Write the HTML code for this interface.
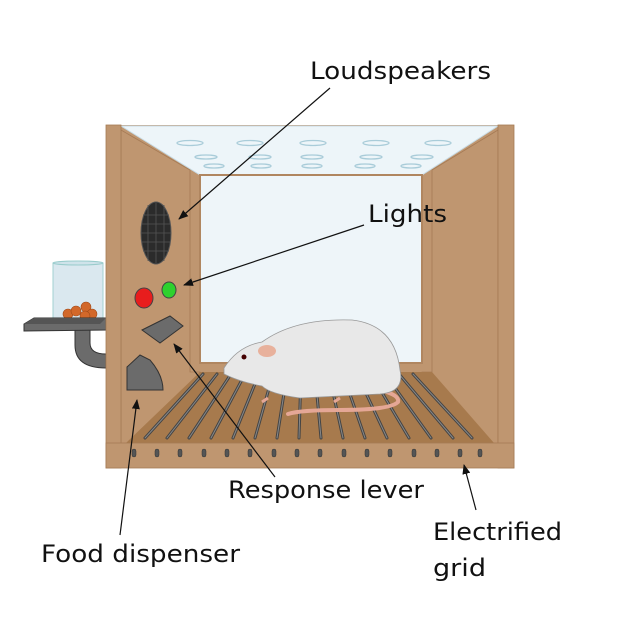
<!DOCTYPE html>
<html><head><meta charset="utf-8"><style>html,body{margin:0;padding:0;background:#fff}svg{display:block}</style></head>
<body>
<svg width="618" height="623" viewBox="0 0 618 623" xmlns="http://www.w3.org/2000/svg">
<defs>
<marker id="ah" markerWidth="10" markerHeight="8" refX="9" refY="4" orient="auto" markerUnits="userSpaceOnUse">
<path d="M0,0 L10,4 L0,8 Z" fill="#111"/></marker>
</defs>
<path d="M75,330 L75,345 Q75,368 106,368 L106,354 Q90,354 90,343 L90,330 Z" fill="#6b6b6b" stroke="#333" stroke-width="1"/>
<rect x="53" y="263" width="50" height="58" fill="#d6e6ee" stroke="#9cc" stroke-width="1" opacity="0.9"/>
<ellipse cx="78" cy="263" rx="25" ry="2" fill="#cfe3ea" stroke="#9cc"/>
<g fill="#d2682a" stroke="#a04a1a" stroke-width="0.6">
<circle cx="68" cy="314" r="5"/><circle cx="76" cy="311" r="5"/><circle cx="86" cy="307" r="5"/><circle cx="92" cy="314" r="5"/><circle cx="85" cy="316" r="5"/></g>
<path d="M24,324 L34,318 L106,318 L106,330 L24,331 Z" fill="#6b6b6b" stroke="#333"/>
<path d="M24,324 L34,318 L106,318 L100,324 Z" fill="#555"/>
<!-- box base fill -->
<rect x="106" y="125" width="408" height="343" fill="#bf9670"/>
<rect x="200" y="175" width="222" height="200" fill="#bf9670"/>
<path d="M121,126 L498,126 L422,175 L200,175 Z" fill="#edf5f9" stroke="#c8dce6"/>
<g fill="none" stroke="#a9ccd9" stroke-width="1.3">
<ellipse cx="190" cy="143" rx="13" ry="2.5"/><ellipse cx="250" cy="143" rx="13" ry="2.5"/><ellipse cx="313" cy="143" rx="13" ry="2.5"/><ellipse cx="376" cy="143" rx="13" ry="2.5"/><ellipse cx="438" cy="143" rx="13" ry="2.5"/>
<ellipse cx="206" cy="157" rx="11" ry="2"/><ellipse cx="260" cy="157" rx="11" ry="2"/><ellipse cx="312" cy="157" rx="11" ry="2"/><ellipse cx="371" cy="157" rx="11" ry="2"/><ellipse cx="422" cy="157" rx="11" ry="2"/>
<ellipse cx="214" cy="166" rx="10" ry="2"/><ellipse cx="261" cy="166" rx="10" ry="2"/><ellipse cx="312" cy="166" rx="10" ry="2"/><ellipse cx="365" cy="166" rx="10" ry="2"/><ellipse cx="411" cy="166" rx="10" ry="2"/></g>
<path d="M121,130 L190,170 L190,372 L200,372 L200,440 L121,448 Z" fill="#bf9670" stroke="#a67b55" stroke-width="0.8"/>
<path d="M498,130 L432,170 L432,372 L422,372 L422,440 L498,448 Z" fill="#bf9670" stroke="#a67b55" stroke-width="0.8"/>
<rect x="200" y="175" width="222" height="188" fill="#eef5f9" stroke="#b08660" stroke-width="2"/>
<!-- floor -->
<path d="M200,372 L432,372 L494,443 L126,443 Z" fill="#a77a4d"/>
<g stroke="#444" stroke-width="3" stroke-linecap="round">
<line x1="203" y1="374" x2="145" y2="438"/><line x1="217" y1="374" x2="167" y2="438"/><line x1="231" y1="374" x2="189" y2="438"/><line x1="245" y1="374" x2="211" y2="438"/><line x1="259" y1="374" x2="233" y2="438"/><line x1="273" y1="374" x2="255" y2="438"/><line x1="287" y1="374" x2="277" y2="438"/><line x1="301" y1="374" x2="299" y2="438"/><line x1="315" y1="374" x2="321" y2="438"/><line x1="329" y1="374" x2="343" y2="438"/><line x1="343" y1="374" x2="365" y2="438"/><line x1="357" y1="374" x2="387" y2="438"/><line x1="371" y1="374" x2="409" y2="438"/><line x1="385" y1="374" x2="431" y2="438"/><line x1="399" y1="374" x2="453" y2="438"/><line x1="413" y1="374" x2="472" y2="438"/></g>
<g stroke="#888" stroke-width="1" stroke-linecap="round">
<line x1="203" y1="374" x2="145" y2="438"/><line x1="217" y1="374" x2="167" y2="438"/><line x1="231" y1="374" x2="189" y2="438"/><line x1="245" y1="374" x2="211" y2="438"/><line x1="259" y1="374" x2="233" y2="438"/><line x1="273" y1="374" x2="255" y2="438"/><line x1="287" y1="374" x2="277" y2="438"/><line x1="301" y1="374" x2="299" y2="438"/><line x1="315" y1="374" x2="321" y2="438"/><line x1="329" y1="374" x2="343" y2="438"/><line x1="343" y1="374" x2="365" y2="438"/><line x1="357" y1="374" x2="387" y2="438"/><line x1="371" y1="374" x2="409" y2="438"/><line x1="385" y1="374" x2="431" y2="438"/><line x1="399" y1="374" x2="453" y2="438"/><line x1="413" y1="374" x2="472" y2="438"/></g>
<rect x="106" y="125" width="15" height="343" fill="#bf9670" stroke="#a67b55" stroke-width="0.8"/>
<rect x="498" y="125" width="16" height="343" fill="#bf9670" stroke="#a67b55" stroke-width="0.8"/>
<rect x="106" y="443" width="408" height="25" fill="#bf9670" stroke="#a67b55" stroke-width="0.8"/>
<g fill="#555" stroke="#333" stroke-width="0.5">
<rect x="132" y="449" width="4" height="8" rx="2"/><rect x="155" y="449" width="4" height="8" rx="2"/><rect x="178" y="449" width="4" height="8" rx="2"/><rect x="202" y="449" width="4" height="8" rx="2"/><rect x="225" y="449" width="4" height="8" rx="2"/><rect x="248" y="449" width="4" height="8" rx="2"/><rect x="272" y="449" width="4" height="8" rx="2"/><rect x="295" y="449" width="4" height="8" rx="2"/><rect x="318" y="449" width="4" height="8" rx="2"/><rect x="342" y="449" width="4" height="8" rx="2"/><rect x="365" y="449" width="4" height="8" rx="2"/><rect x="388" y="449" width="4" height="8" rx="2"/><rect x="412" y="449" width="4" height="8" rx="2"/><rect x="435" y="449" width="4" height="8" rx="2"/><rect x="458" y="449" width="4" height="8" rx="2"/><rect x="478" y="449" width="4" height="8" rx="2"/></g>
<ellipse cx="156" cy="233" rx="15" ry="31" fill="#2b2b2b" stroke="#555"/>
<g stroke="#555" stroke-width="0.8">
<line x1="143" y1="215" x2="169" y2="215"/><line x1="142" y1="224" x2="170" y2="224"/><line x1="141" y1="233" x2="171" y2="233"/><line x1="142" y1="242" x2="170" y2="242"/><line x1="143" y1="251" x2="169" y2="251"/>
<line x1="148" y1="205" x2="148" y2="261"/><line x1="156" y1="203" x2="156" y2="263"/><line x1="164" y1="205" x2="164" y2="261"/></g>
<ellipse cx="144" cy="298" rx="9" ry="10" fill="#e81d1d" stroke="#444"/>
<ellipse cx="169" cy="290" rx="7" ry="8" fill="#2ed12e" stroke="#444"/>
<path d="M142,330 L170,316 L183,326 L160,343 Z" fill="#6b6b6b" stroke="#333"/>
<path d="M127,367 L140,355 L150,360 Q163,375 163,390 L127,390 Z" fill="#6b6b6b" stroke="#333"/>
<path d="M380,390 Q400,395 398,402 Q390,410 340,410 Q300,410 288,414" fill="none" stroke="#e5a796" stroke-width="4" stroke-linecap="round"/>
<path d="M224,368 Q238,346 262,342 Q295,318 352,320 Q395,325 400,370 Q405,392 380,394 L300,398 Q270,394 262,386 Q240,382 224,374 Z" fill="#e8e8e8" stroke="#999" stroke-width="0.8"/>
<ellipse cx="267" cy="351" rx="9" ry="6" fill="#e8b19c"/>
<circle cx="244" cy="357" r="2.5" fill="#400"/>
<path d="M268,398 L262,402 M340,398 L334,402" stroke="#e5a796" stroke-width="3"/>
<g stroke="#111" stroke-width="1.2" fill="none" marker-end="url(#ah)">
<line x1="330" y1="88" x2="179" y2="219"/>
<line x1="364" y1="225" x2="184" y2="285"/>
<line x1="275" y1="477" x2="174" y2="344"/>
<line x1="120" y1="535" x2="137" y2="400"/>
<line x1="476" y1="510" x2="464" y2="465"/>
</g>
<g font-family="DejaVu Sans, Liberation Sans, sans-serif" font-size="24" fill="#111">
<text x="310" y="79" textLength="181" lengthAdjust="spacingAndGlyphs">Loudspeakers</text>
<text x="368" y="222" textLength="79" lengthAdjust="spacingAndGlyphs">Lights</text>
<text x="228" y="498" textLength="196" lengthAdjust="spacingAndGlyphs">Response lever</text>
<text x="41" y="562" textLength="199" lengthAdjust="spacingAndGlyphs">Food dispenser</text>
<text x="433" y="540" textLength="129" lengthAdjust="spacingAndGlyphs">Electrified</text>
<text x="433" y="576" textLength="53" lengthAdjust="spacingAndGlyphs">grid</text>
</g>
</svg>
</body></html>
